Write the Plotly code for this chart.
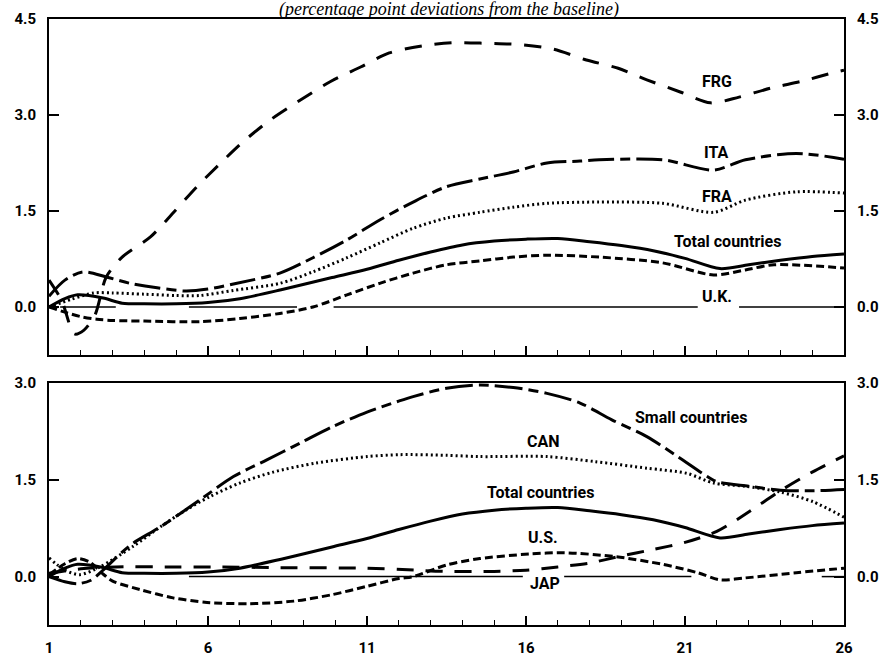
import plotly.graph_objects as go

# ---------------- data ----------------
# Top panel
frg_t = [1, 1.4, 1.8, 2.1, 2.45, 2.8, 3.3, 4.2, 4.9, 5.65, 6.4, 7.1, 7.95, 8.8, 9.84, 10.8, 11.7,
         12.76, 13.7, 14.77, 15.8, 16.85, 17.9, 18.9, 19.8, 20.85, 21.8, 22.7, 23.7, 24.7, 25.65, 26]
frg_v = [0.42, 0.1, -0.42, -0.36, -0.12, 0.47, 0.78, 1.1, 1.47, 1.88, 2.25, 2.58, 2.92, 3.2, 3.52, 3.75, 3.97,
         4.08, 4.13, 4.12, 4.1, 4.03, 3.86, 3.73, 3.55, 3.36, 3.19, 3.28, 3.42, 3.53, 3.66, 3.7]

ita_t = [1, 1.5, 2.07, 2.8, 3.55, 4.4, 5.3, 6.0, 6.8, 8.26, 9.3, 10.37, 11.4, 12.45, 13.5, 14.55, 15.6,
         16.66, 17.7, 18.3, 20.3, 21.9, 22.9, 24.5, 26]
ita_v = [0.17, 0.42, 0.55, 0.47, 0.37, 0.3, 0.25, 0.28, 0.36, 0.53, 0.77, 1.05, 1.36, 1.64, 1.88, 2.0, 2.11,
         2.25, 2.28, 2.3, 2.3, 2.14, 2.3, 2.4, 2.31]

fra_t = [1, 1.7, 2.4, 3.0, 4.0, 5.0, 5.75, 6.8, 8.26, 9.3, 10.37, 11.4, 12.45, 13.5, 14.55, 15.6, 16.66,
         18.3, 20.3, 21.9, 22.9, 24.5, 26]
fra_v = [0.0, 0.12, 0.22, 0.22, 0.2, 0.18, 0.18, 0.26, 0.37, 0.55, 0.77, 1.0, 1.23, 1.39, 1.48, 1.56, 1.62,
         1.64, 1.62, 1.48, 1.67, 1.8, 1.78]

total_t = [1, 1.5, 1.9, 2.7, 3.3, 4, 5, 6, 7, 8.3, 9.9, 11, 12, 13, 14, 15, 16, 17, 18, 19, 20, 21,
           22.1, 23, 24, 25, 26]
total_v = [0.0, 0.13, 0.19, 0.14, 0.06, 0.05, 0.05, 0.07, 0.13, 0.27, 0.46, 0.59, 0.73, 0.86, 0.97, 1.03,
           1.06, 1.07, 1.02, 0.96, 0.88, 0.76, 0.6, 0.66, 0.73, 0.79, 0.83]

uk_t = [1, 1.5, 2.0, 2.5, 3.0, 4.0, 5.75, 7.0, 8.26, 9.3, 10.37, 11.4, 12.45, 13.5, 14.55, 15.6, 16.66,
        18.3, 20.3, 21.9, 22.9, 23.8, 26]
uk_v = [0.0, -0.08, -0.15, -0.19, -0.21, -0.22, -0.23, -0.18, -0.1, 0.0, 0.19, 0.37, 0.53, 0.66, 0.72,
        0.78, 0.81, 0.78, 0.69, 0.5, 0.58, 0.66, 0.61]

base_top_t = [1.35, 3.1, None, 5.4, 8.8, None, 9.95, 21.4, None, 22.7, 26]
base_top_v = [0, 0, None, 0, 0, None, 0, 0, None, 0, 0]

# Bottom panel
small_t = [1, 1.5, 1.9, 2.3, 2.7, 3.3, 3.65, 4.5, 5.75, 6.8, 7.85, 8.9, 9.9, 11, 12, 12.45, 13.5, 14.55,
           15.6, 16.66, 17.7, 18.7, 19.8, 20.8, 21.7, 22, 23, 24, 25, 26]
small_v = [0.0, -0.08, -0.11, -0.06, 0.1, 0.38, 0.52, 0.77, 1.19, 1.55, 1.81, 2.07, 2.32, 2.55, 2.72, 2.79,
           2.92, 2.97, 2.93, 2.84, 2.69, 2.43, 2.17, 1.85, 1.55, 1.47, 1.4, 1.34, 1.33, 1.35]

can_t = [1, 1.5, 1.97, 2.6, 3.65, 4.5, 5.3, 6.06, 7.0, 8.05, 9.4, 11, 12.04, 13.5, 14.55, 16.66, 18.2,
         19.8, 21.06, 21.9, 22.9, 24, 25.03, 26]
can_v = [0.29, 0.1, 0.03, 0.15, 0.47, 0.77, 1.03, 1.24, 1.45, 1.62, 1.76, 1.86, 1.89, 1.88, 1.86, 1.86,
         1.78, 1.68, 1.6, 1.45, 1.4, 1.31, 1.16, 0.92]

us_t = [1, 1.5, 1.9, 2.3, 2.7, 3.0, 3.86, 4.9, 5.97, 7.3, 8.7, 9.9, 11, 12, 12.45, 13.5, 14.55, 16.1,
        17.2, 18.8, 20.3, 21.4, 22.1, 22.9, 24.5, 26]
us_v = [0.03, 0.2, 0.28, 0.22, 0.04, -0.07, -0.2, -0.33, -0.4, -0.42, -0.38, -0.28, -0.15, -0.03, 0.0,
        0.18, 0.28, 0.35, 0.37, 0.31, 0.19, 0.06, -0.05, -0.02, 0.06, 0.13]

jap_t = [1, 2, 3.1, 5, 6.4, 8, 11, 12.5, 13.5, 15, 16, 17, 18, 19, 20, 21, 22, 23, 24, 25, 26]
jap_v = [0.05, 0.12, 0.15, 0.15, 0.15, 0.14, 0.13, 0.1, 0.08, 0.08, 0.1, 0.15, 0.21, 0.32, 0.42, 0.53,
         0.7, 1.0, 1.33, 1.62, 1.87]

base_bot_t = [5.4, 15.9, None, 17.2, 21.2, None, 25.3, 26]
base_bot_v = [0, 0, None, 0, 0, None, 0, 0]

y_ticks_top = [0.0, 1.5, 3.0, 4.5]
y_ticks_bot = [0.0, 1.5, 3.0]
x_ticks = [1, 6, 11, 16, 21, 26]

top_labels = [("FRG", 22, 3.52), ("ITA", 22, 2.42), ("FRA", 22, 1.72),
              ("Total countries", 22.35, 1.02), ("U.K.", 22, 0.16)]
bot_labels = [("Small countries", 21.2, 2.47), ("CAN", 16.55, 2.09),
              ("Total countries", 16.45, 1.3), ("U.S.", 16.55, 0.6), ("JAP", 16.6, -0.1)]

title_text = "(percentage point deviations from the baseline)"

# ---------------- figure ----------------
LBL_FONT = dict(family="Roboto, sans-serif", size=16, color="black", weight="bold")
TICK_FONT = dict(family="Roboto, sans-serif", size=15, color="black", weight="bold")

fig = go.Figure()

def add(t, v, xa, ya, width=3, dash="solid", name=""):
    fig.add_trace(go.Scatter(x=t, y=v, xaxis=xa, yaxis=ya, mode="lines", name=name,
                             line=dict(color="black", width=width, dash=dash, shape="spline", smoothing=0.8),
                             connectgaps=False, hoverinfo="skip", showlegend=False))

# top panel
add(frg_t, frg_v, "x", "y", 3, "17px,13px", "FRG")
add(ita_t, ita_v, "x", "y", 3, "26px,6px,10px,6px", "ITA")
add(fra_t, fra_v, "x", "y", 3, "2px,3px", "FRA")
add(total_t, total_v, "x", "y", 3, "solid", "Total")
add(uk_t, uk_v, "x", "y", 3, "8px,4px", "U.K.")
fig.add_trace(go.Scatter(x=base_top_t, y=base_top_v, xaxis="x", yaxis="y3", mode="lines",
                         line=dict(color="black", width=1.5), hoverinfo="skip", showlegend=False))

# bottom panel
add(small_t, small_v, "x2", "y2", 3, "28px,6px,10px,6px", "Small")
add(can_t, can_v, "x2", "y2", 3, "2px,3px", "CAN")
add(total_t, total_v, "x2", "y2", 3, "solid", "Total")
add(us_t, us_v, "x2", "y2", 3, "8px,4px", "U.S.")
add(jap_t, jap_v, "x2", "y2", 3, "17px,12px", "JAP")
fig.add_trace(go.Scatter(x=base_bot_t, y=base_bot_v, xaxis="x2", yaxis="y4", mode="lines",
                         line=dict(color="black", width=1.5), hoverinfo="skip", showlegend=False))

xcommon = dict(range=[1, 26], tickvals=x_ticks, ticks="inside", ticklen=9, tickwidth=1.5,
               tickcolor="black", showline=True, linecolor="black", linewidth=2, mirror=True,
               showgrid=False, zeroline=False, automargin=False,
               minor=dict(dtick=1, tick0=1, ticks="inside", ticklen=5, tickwidth=1.2, tickcolor="black",
                          showgrid=False))
ycommon = dict(ticks="inside", ticklen=10, tickwidth=1.5, tickcolor="black", showline=True,
               linecolor="black", linewidth=2, showgrid=False, zeroline=False, automargin=False,
               tickformat=".1f", tickfont=TICK_FONT, ticklabelstandoff=8)

top_dom = [0.4455, 1.0]
bot_dom = [0.0, 0.3993]

fig.update_layout(
    width=889, height=659,
    margin=dict(l=49, r=45, t=19, b=34, autoexpand=False),
    paper_bgcolor="white", plot_bgcolor="white",
    xaxis=dict(**xcommon, anchor="y", domain=[0, 1], showticklabels=False),
    xaxis2=dict(**xcommon, anchor="y2", domain=[0, 1], showticklabels=True, tickfont=TICK_FONT,
                ticklabelstandoff=8),
    yaxis=dict(**ycommon, range=[-0.75, 4.5], tickvals=y_ticks_top, domain=top_dom, anchor="x",
               side="left", mirror=True),
    yaxis3=dict(**ycommon, range=[-0.75, 4.5], tickvals=y_ticks_top, overlaying="y", anchor="x",
                side="right"),
    yaxis2=dict(**ycommon, range=[-0.75, 3.0], tickvals=y_ticks_bot, domain=bot_dom, anchor="x2",
                side="left", mirror=True),
    yaxis4=dict(**ycommon, range=[-0.75, 3.0], tickvals=y_ticks_bot, overlaying="y2", anchor="x2",
                side="right"),
)

anns = []
for txt, t, v in top_labels:
    anns.append(dict(text=txt, x=t, y=v, xref="x", yref="y", showarrow=False, font=LBL_FONT,
                     xanchor="center", yanchor="middle"))
for txt, t, v in bot_labels:
    anns.append(dict(text=txt, x=t, y=v, xref="x2", yref="y2", showarrow=False, font=LBL_FONT,
                     xanchor="center", yanchor="middle"))
anns.append(dict(text=title_text, x=0.503, y=1.0165, xref="paper", yref="paper", showarrow=False,
                 xanchor="center", yanchor="middle",
                 font=dict(family="Liberation Serif, serif", size=18, color="black", style="italic")))
fig.update_layout(annotations=anns)

fig.write_html("out.html", config={"displayModeBar": False},
               post_script="document.body.style.margin='0';document.body.style.padding='0';")
